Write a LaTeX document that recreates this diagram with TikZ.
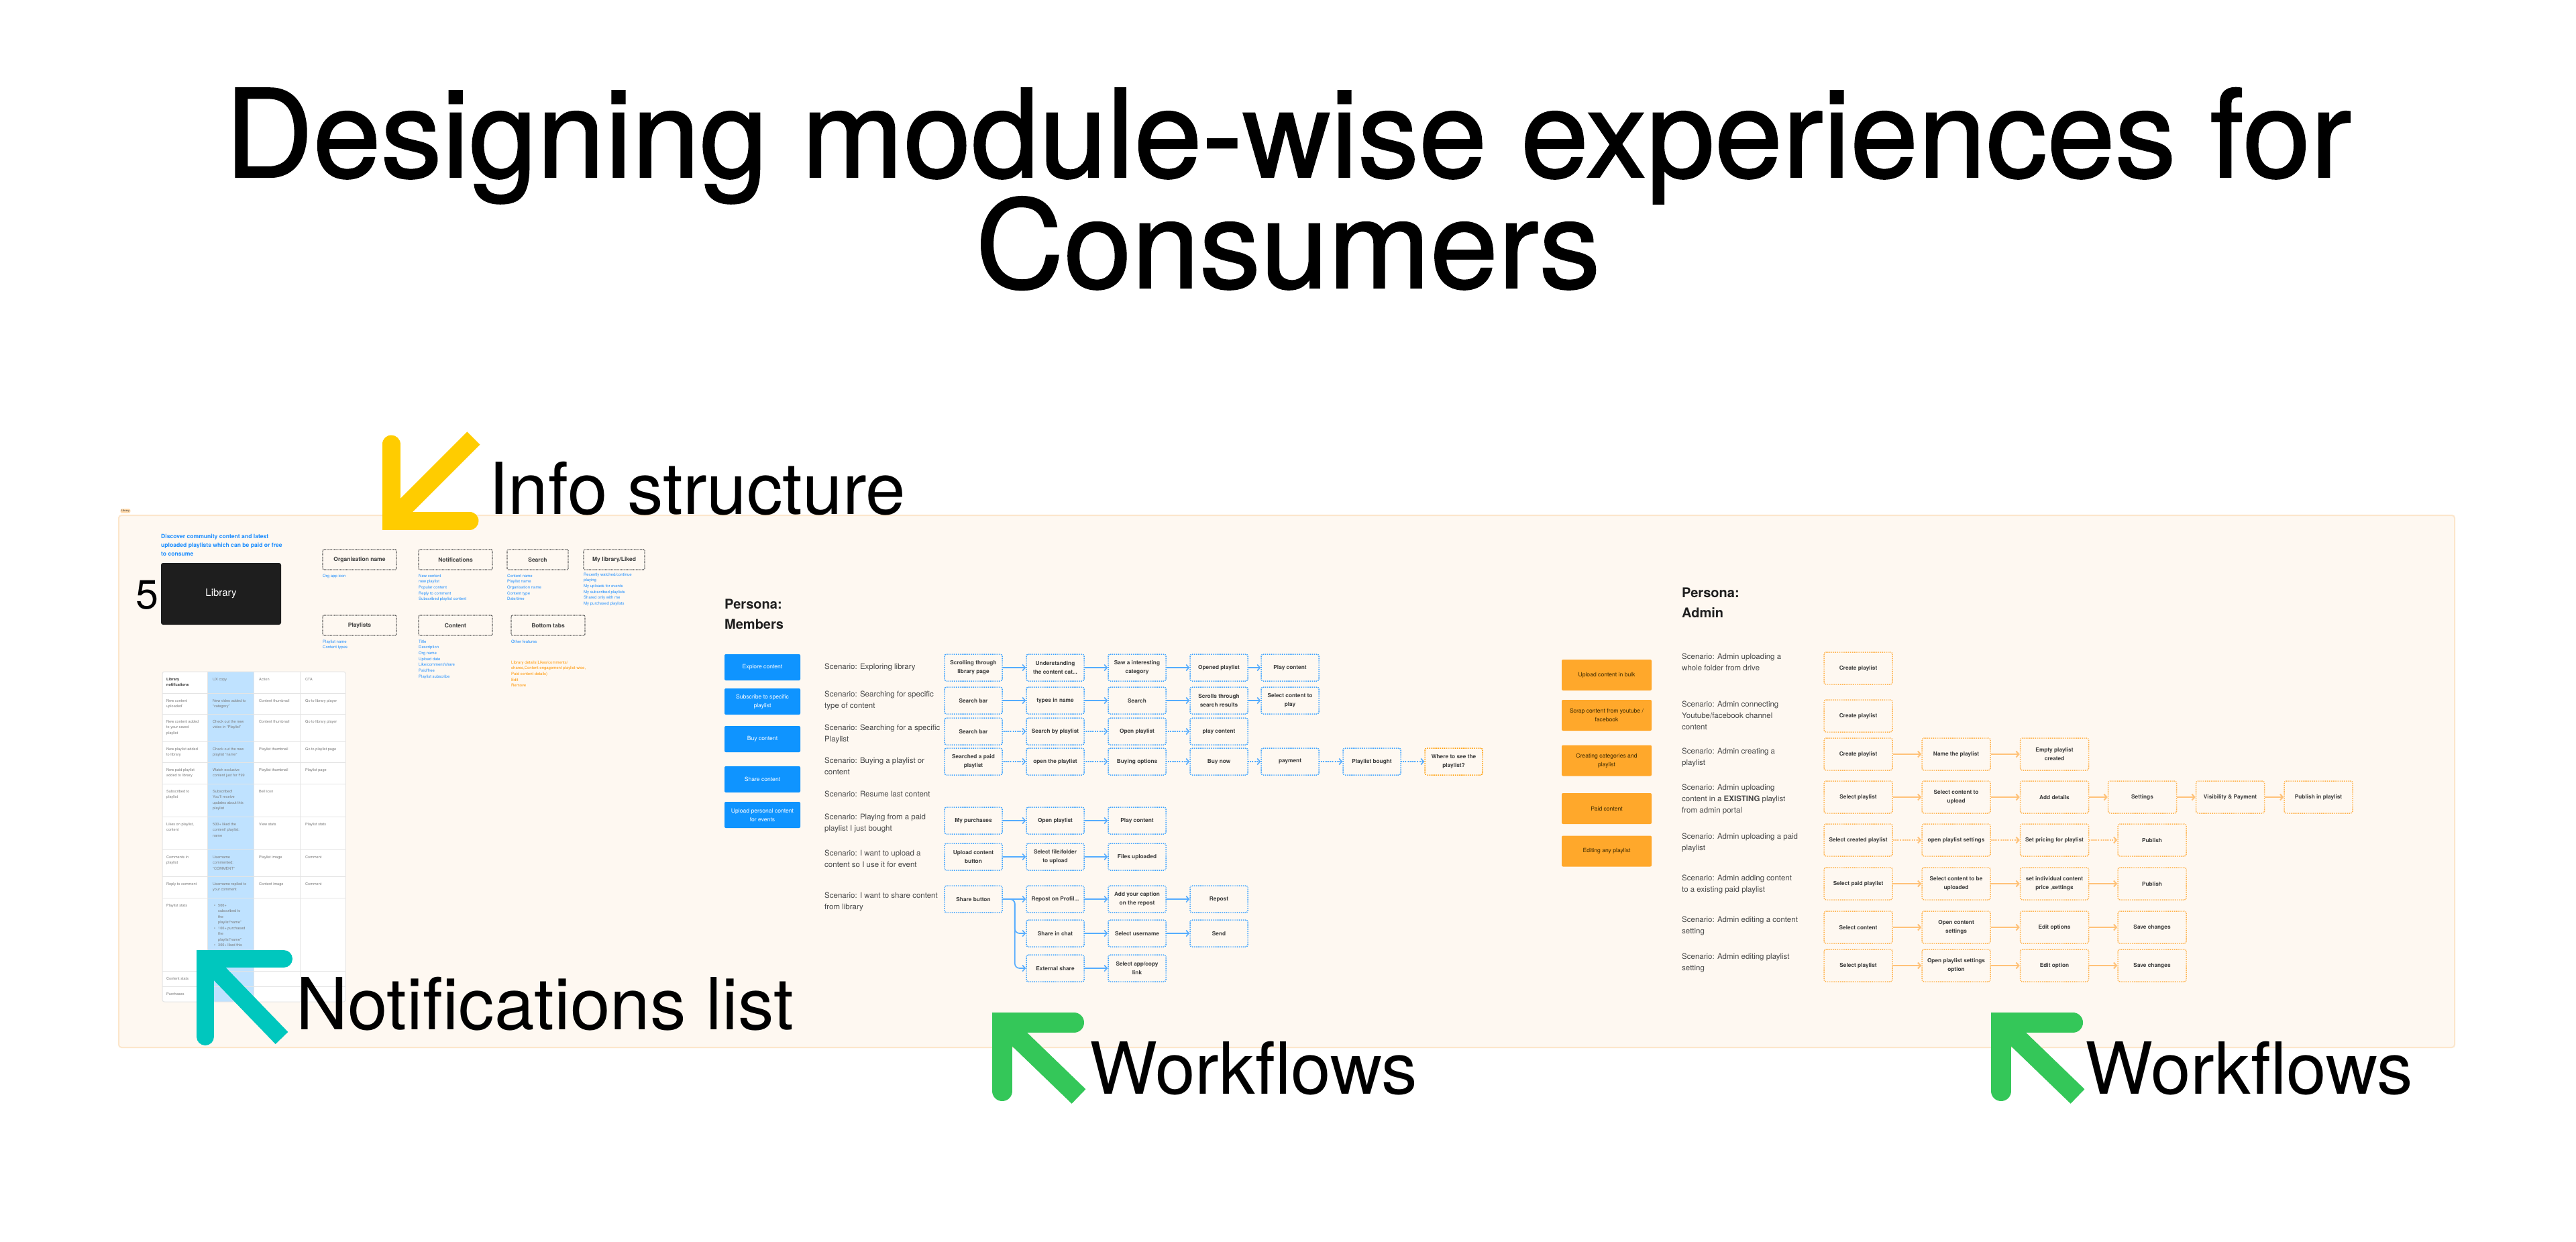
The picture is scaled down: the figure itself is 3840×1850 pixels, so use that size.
\documentclass[tikz,border=0pt]{standalone}
\usepackage{fontspec}
\setmainfont{TeX Gyre Heros}
\newfontfamily\rupeefont{Noto Sans}
\newfontfamily\titlefont[FakeBold=1.2]{TeX Gyre Heros}
\usetikzlibrary{arrows.meta,calc}

\definecolor{panel}{HTML}{FEF8F1}
\definecolor{panelline}{HTML}{FCE6CB}
\definecolor{mblue}{HTML}{3DA2FF}
\definecolor{mbluearrow}{HTML}{55ACFF}
\definecolor{btnblue}{HTML}{0F94FF}
\definecolor{aorange}{HTML}{FFB24A}
\definecolor{aorangearrow}{HTML}{FFC279}
\definecolor{btnorange}{HTML}{FFA82B}
\definecolor{btnotext}{HTML}{3B2800}
\definecolor{listblue}{HTML}{1A8CFF}
\definecolor{listorange}{HTML}{FF9500}
\definecolor{boxtext}{HTML}{3C3C3C}
\definecolor{scentext}{HTML}{474747}
\definecolor{tblue}{HTML}{BFE2FF}
\definecolor{tline}{HTML}{E4E4E4}
\definecolor{ttext}{HTML}{7A7A7A}
\definecolor{theadtext}{HTML}{333333}
\definecolor{ayellow}{HTML}{FFCC00}
\definecolor{ateal}{HTML}{00C7BE}
\definecolor{agreen}{HTML}{34C759}
\definecolor{libtag}{HTML}{FFD9AA}
\definecolor{libbox}{HTML}{1E1E1E}
\definecolor{wheretosee}{HTML}{FF9F0A}
\definecolor{iboxline}{HTML}{4A4A4A}

\begin{document}
\begin{tikzpicture}[x=1pt,y=-1pt,
  mbox/.style={draw=mblue, line width=1.5pt, dash pattern=on 1.4pt off 1.4pt, rounded corners=3pt,
    minimum width=86pt, minimum height=40pt, inner sep=1pt, align=center, text=boxtext,
    font=\fontsize{8.3}{12.5}\selectfont\bfseries},
  abox/.style={mbox, draw=aorange, minimum width=102pt, minimum height=48pt},
  marrow/.style={draw=mbluearrow, line width=1.6pt, -{Straight Barb[length=4pt,width=9pt]}},
  marrowd/.style={marrow, dash pattern=on 1.6pt off 1pt},
  aarrow/.style={draw=aorangearrow, line width=2pt, -{Straight Barb[length=4pt,width=9pt]}},
  aarrowd/.style={aarrow, dash pattern=on 1.6pt off 1pt},
  ibox/.style={draw=iboxline, line width=1.2pt, dash pattern=on 1.2pt off 1pt, rounded corners=1.5pt,
    minimum width=110pt, minimum height=30pt, inner sep=1pt, text=boxtext,
    font=\fontsize{8.5}{10}\selectfont\bfseries},
  blist/.style={anchor=north west, inner sep=0pt, align=left, text=listblue,
    font=\fontsize{6}{8.7}\selectfont},
  tcell/.style={anchor=north west, inner sep=0pt, align=left, text=ttext,
    font=\fontsize{5.6}{8.5}\selectfont},
  bbtn/.style={fill=btnblue, rounded corners=2pt, minimum width=113pt, minimum height=39pt,
    inner sep=1pt, text=white, align=center, font=\fontsize{8.6}{13}\selectfont},
  obtn/.style={fill=btnorange, rounded corners=2pt, minimum width=134pt, minimum height=46pt,
    inner sep=1pt, text=btnotext, align=center, font=\fontsize{8.6}{13}\selectfont},
  scen/.style={anchor=north west, inner sep=0pt, align=left, text=scentext,
    font=\fontsize{11.5}{17}\selectfont},
  persona/.style={anchor=north west, inner sep=0pt, align=left, text=black!88,
    font=\fontsize{20}{30}\selectfont\bfseries},
  biglabel/.style={anchor=base west, inner sep=0pt, text=black, font=\fontsize{107}{120}\selectfont},
  titletext/.style={anchor=base, inner sep=0pt, text=black, font=\titlefont\fontsize{182}{218}\selectfont}
]
\useasboundingbox (0,0) rectangle (3840,1850);
\fill[white] (0,0) rectangle (3840,1850);

% ---------- title ----------
\node[titletext] (title1) at (1920,264) {Designing module-wise experiences for};
\node[titletext] (title2) at (1920,429) {Consumers};

% ---------- panel ----------
\draw[fill=panel, draw=panelline, line width=2pt, rounded corners=4pt] (177,768) rectangle (3659,1561);
\node[fill=libtag, rounded corners=1.5pt, inner sep=1.2pt, text=black!80,
  font=\fontsize{4}{5}\selectfont] (tag) at (187,761.5) {Library};

% ---------- library / info structure ----------
\node[anchor=north west, inner sep=0pt, align=left, text=listblue,
  font=\fontsize{8.6}{13}\selectfont\bfseries] (desc) at (240,796)
  {Discover community content and latest\\uploaded playlists which can be paid or free\\to consume};
\node[fill=libbox, rounded corners=3pt, minimum width=179pt, minimum height=92pt, text=white,
  font=\fontsize{15}{18}\selectfont] (libbox) at (329.5,885) {Library};
\node[anchor=base east, inner sep=0pt, font=\fontsize{61}{70}\selectfont] (five) at (237,907) {5};

\node[ibox] (iorg) at (536,834) {Organisation name};
\node[ibox] (inotif) at (679,834) {Notifications};
\node[ibox, minimum width=91pt] (isearch) at (801.5,834) {Search};
\node[ibox, minimum width=91pt] (ilib) at (915.5,834) {My library/Liked};
\node[ibox] (iplay) at (536,932) {Playlists};
\node[ibox] (icont) at (679,932) {Content};
\node[ibox] (itabs) at (817,932) {Bottom tabs};

\node[blist] (lorg) at (481,855.5) {Org app icon};
\node[blist] (lnotif) at (624,855.5) {New content\\new playlist\\Popular content\\Reply to comment\\Subscribed playlist content};
\node[blist] (lsearch) at (756,855.5) {Content name\\Playlist name\\Organisation name\\Content type\\Date/time};
\node[blist] (llib) at (870,853.5) {Recently watched/continue\\playing\\My uploads for events\\My subscribed playlists\\Shared only with me\\My purchased playlists};
\node[blist] (lplay) at (481,953.5) {Playlist name\\Content types};
\node[blist] (lcont) at (624,953.5) {Title\\Description\\Org name\\Upload date\\Like/comment/share\\Paid/free\\Playlist subscribe};
\node[blist] (ltabs) at (762,953.5) {Other features};
\node[blist, text=listorange] (lorange) at (762,984.5) {Library details(Likes/comments/\\shares,Content engagement playlist-wise,\\Paid content details)\\Edit\\Remove};

% ---------- notifications table ----------
\fill[white, rounded corners=3pt] (242,1001) rectangle (515,1493);
\fill[tblue] (309,1001) rectangle (378,1493);
\foreach \yy in {1033,1064,1105,1136,1168,1217,1266,1306,1338,1447,1470}
  \draw[tline, line width=0.8pt] (242,\yy) -- (515,\yy);
\foreach \xx in {309,378,447}
  \draw[tline, line width=0.8pt] (\xx,1001) -- (\xx,1493);
\draw[tline, line width=1pt, rounded corners=3pt] (242,1001) rectangle (515,1493);

\node[tcell, text=theadtext, font=\fontsize{5.6}{8.5}\selectfont\bfseries] (t11) at (248,1010) {Library\\notifications};
\node[tcell] (t12) at (317,1010) {UX copy};
\node[tcell] (t13) at (386,1010) {Action};
\node[tcell] (t14) at (455,1010) {CTA};
\node[tcell] (t21) at (248,1042) {New content\\uploaded'};
\node[tcell] (t22) at (317,1042) {New video added to\\“category”};
\node[tcell] (t23) at (386,1042) {Content thumbnail};
\node[tcell] (t24) at (455,1042) {Go to library player};
\node[tcell] (t31) at (248,1073) {New content added\\to your saved\\playlist};
\node[tcell] (t32) at (317,1073) {Check out the new\\video in “Playlist”};
\node[tcell] (t33) at (386,1073) {Content thumbnail};
\node[tcell] (t34) at (455,1073) {Go to library player};
\node[tcell] (t41) at (248,1114) {New playlist added\\to library};
\node[tcell] (t42) at (317,1114) {Check out the new\\playlist “name”};
\node[tcell] (t43) at (386,1114) {Playlist thumbnail};
\node[tcell] (t44) at (455,1114) {Go to playlist page};
\node[tcell] (t51) at (248,1145) {New paid playlist\\added to library};
\node[tcell] (t52) at (317,1145) {Watch exclusive\\content just for {\rupeefont ₹}99};
\node[tcell] (t53) at (386,1145) {Playlist thumbnail};
\node[tcell] (t54) at (455,1145) {Playlist page};
\node[tcell] (t61) at (248,1177) {Subscribed to\\playlist};
\node[tcell] (t62) at (317,1177) {Subscribed!\\You'll receive\\updates about this\\playlist};
\node[tcell] (t63) at (386,1177) {Bell icon};
\node[tcell] (t71) at (248,1226) {Likes on playlist,\\content};
\node[tcell] (t72) at (317,1226) {500+ liked the\\content/ playlist:\\name};
\node[tcell] (t73) at (386,1226) {View stats};
\node[tcell] (t74) at (455,1226) {Playlist stats};
\node[tcell] (t81) at (248,1275) {Comments in\\playlist};
\node[tcell] (t82) at (317,1275) {Username\\commented:\\“COMMENT”};
\node[tcell] (t83) at (386,1275) {Playlist image};
\node[tcell] (t84) at (455,1275) {Comment};
\node[tcell] (t91) at (248,1315) {Reply to comment};
\node[tcell] (t92) at (317,1315) {Username replied to\\your comment};
\node[tcell] (t93) at (386,1315) {Content image};
\node[tcell] (t94) at (455,1315) {Comment};
\node[tcell] (t101) at (248,1347) {Playlist stats};
\node[tcell] (t102) at (319,1347) {\makebox[6pt][l]{\textbullet}500+\\\hspace*{6pt}subscribed to\\\hspace*{6pt}the\\\hspace*{6pt}playlist“name”\\\makebox[6pt][l]{\textbullet}100+ purchased\\\hspace*{6pt}the\\\hspace*{6pt}playlist“name”\\\makebox[6pt][l]{\textbullet}300+ liked this};
\node[tcell] (t111) at (248,1456) {Content stats};
\node[tcell] (t121) at (248,1479) {Purchases};

% ---------- members ----------
\node[persona] (pmem) at (1080,893) {Persona:\\Members};

\node[bbtn] (b1) at (1136.5,994.5) {Explore content};
\node[bbtn] (b2) at (1136.5,1045.5) {Subscribe to specific\\playlist};
\node[bbtn] (b3) at (1136.5,1101.5) {Buy content};
\node[bbtn] (b4) at (1136.5,1161.5) {Share content};
\node[bbtn] (b5) at (1136.5,1214.5) {Upload personal content\\for events};

\node[scen] (s1) at (1229,989) {Scenario: Exploring library};
\node[scen] (s2) at (1229,1030) {Scenario: Searching for specific\\type of content};
\node[scen] (s3) at (1229,1080) {Scenario: Searching for a specific\\Playlist};
\node[scen] (s4) at (1229,1129) {Scenario: Buying a playlist or\\content};
\node[scen] (s5) at (1229,1179) {Scenario: Resume last content};
\node[scen] (s6) at (1229,1213) {Scenario: Playing from a paid\\playlist I just bought};
\node[scen] (s7) at (1229,1267) {Scenario: I want to upload a\\content so I use it for event};
\node[scen] (s8) at (1229,1330) {Scenario: I want to share content\\from library};

\node[mbox] (m11) at (1451,995) {Scrolling through\\library page};
\node[mbox] (m12) at (1573,995) {Understanding\\the content cat...};
\node[mbox] (m13) at (1695,995) {Saw a interesting\\category};
\node[mbox] (m14) at (1817,995) {Opened playlist};
\node[mbox] (m15) at (1923,995) {Play content};
\draw[marrow] (m11) -- (m12);
\draw[marrow] (m12) -- (m13);
\draw[marrow] (m13) -- (m14);
\draw[marrow] (m14) -- (m15);

\node[mbox] (m21) at (1451,1044) {Search bar};
\node[mbox] (m22) at (1573,1044) {types in name};
\node[mbox] (m23) at (1695,1044) {Search};
\node[mbox] (m24) at (1817,1044) {Scrolls through\\search results};
\node[mbox] (m25) at (1923,1044) {Select content to\\play};
\draw[marrow] (m21) -- (m22);
\draw[marrow] (m22) -- (m23);
\draw[marrow] (m23) -- (m24);
\draw[marrow] (m24) -- (m25);

\node[mbox] (m31) at (1451,1090) {Search bar};
\node[mbox] (m32) at (1573,1090) {Search by playlist};
\node[mbox] (m33) at (1695,1090) {Open playlist};
\node[mbox] (m34) at (1817,1090) {play content};
\draw[marrowd] (m31) -- (m32);
\draw[marrowd] (m32) -- (m33);
\draw[marrowd] (m33) -- (m34);

\node[mbox] (m41) at (1451,1135) {Searched a paid\\playlist};
\node[mbox] (m42) at (1573,1135) {open the playlist};
\node[mbox] (m43) at (1695,1135) {Buying options};
\node[mbox] (m44) at (1817,1135) {Buy now};
\node[mbox] (m45) at (1923,1135) {payment};
\node[mbox] (m46) at (2045,1135) {Playlist bought};
\node[mbox, draw=wheretosee] (m47) at (2167,1135) {Where to see the\\playlist?};
\draw[marrowd] (m41) -- (m42);
\draw[marrowd] (m42) -- (m43);
\draw[marrowd] (m43) -- (m44);
\draw[marrowd] (m44) -- (m45);
\draw[marrowd] (m45) -- (m46);
\draw[marrowd] (m46) -- (m47);

\node[mbox] (mp1) at (1451,1223) {My purchases};
\node[mbox] (mp2) at (1573,1223) {Open playlist};
\node[mbox] (mp3) at (1695,1223) {Play content};
\draw[marrow] (mp1) -- (mp2);
\draw[marrow] (mp2) -- (mp3);

\node[mbox] (mu1) at (1451,1277) {Upload content\\button};
\node[mbox] (mu2) at (1573,1277) {Select file/folder\\to upload};
\node[mbox] (mu3) at (1695,1277) {Files uploaded};
\draw[marrow] (mu1) -- (mu2);
\draw[marrow] (mu2) -- (mu3);

\node[mbox] (ms1) at (1451,1340) {Share button};
\node[mbox] (ms2) at (1573,1340) {Repost on Profil...};
\node[mbox] (ms3) at (1695,1340) {Add your caption\\on the repost};
\node[mbox] (ms4) at (1817,1340) {Repost};
\node[mbox] (mc2) at (1573,1391) {Share in chat};
\node[mbox] (mc3) at (1695,1391) {Select username};
\node[mbox] (mc4) at (1817,1391) {Send};
\node[mbox] (me2) at (1573,1443) {External share};
\node[mbox] (me3) at (1695,1443) {Select app/copy\\link};
\draw[marrow] (ms1) -- (ms2);
\draw[marrow] (ms2) -- (ms3);
\draw[marrow] (ms3) -- (ms4);
\draw[marrow, rounded corners=7pt] (ms1.east) -- ++(18,0) |- (mc2.west);
\draw[marrow, rounded corners=7pt] (ms1.east) -- ++(18,0) |- (me2.west);
\draw[marrow] (mc2) -- (mc3);
\draw[marrow] (mc3) -- (mc4);
\draw[marrow] (me2) -- (me3);

% ---------- admin ----------
\node[persona] (padm) at (2507,876) {Persona:\\Admin};

\node[obtn] (o1) at (2395,1006) {Upload content in bulk};
\node[obtn] (o2) at (2395,1066) {Scrap content from youtube /\\facebook};
\node[obtn] (o3) at (2395,1133.5) {Creating categories and\\playlist};
\node[obtn] (o4) at (2395,1205) {Paid content};
\node[obtn] (o5) at (2395,1268.5) {Editing any playlist};

\node[scen] (as1) at (2507,974) {Scenario: Admin uploading a\\whole folder from drive};
\node[scen] (as2) at (2507,1045) {Scenario: Admin connecting\\Youtube/facebook channel\\content};
\node[scen] (as3) at (2507,1115) {Scenario: Admin creating a\\playlist};
\node[scen] (as4) at (2507,1169) {Scenario: Admin uploading\\content in a \textbf{EXISTING} playlist\\from admin portal};
\node[scen] (as5) at (2507,1242) {Scenario: Admin uploading a paid\\playlist};
\node[scen] (as6) at (2507,1304) {Scenario: Admin adding content\\to a existing paid playlist};
\node[scen] (as7) at (2507,1366) {Scenario: Admin editing a content\\setting};
\node[scen] (as8) at (2507,1421) {Scenario: Admin editing playlist\\setting};

\node[abox] (a11) at (2770,996) {Create playlist};
\node[abox] (a21) at (2770,1067) {Create playlist};

\node[abox] (a31) at (2770,1124) {Create playlist};
\node[abox] (a32) at (2916,1124) {Name the playlist};
\node[abox] (a33) at (3062.5,1124) {Empty playlist\\created};
\draw[aarrow] (a31) -- (a32);
\draw[aarrow] (a32) -- (a33);

\node[abox] (a41) at (2770,1188) {Select playlist};
\node[abox] (a42) at (2916,1188) {Select content to\\upload};
\node[abox] (a43) at (3062.5,1188) {Add details};
\node[abox] (a44) at (3193.5,1188) {Settings};
\node[abox] (a45) at (3324.5,1188) {Visibility \& Payment};
\node[abox] (a46) at (3456,1188) {Publish in playlist};
\draw[aarrow] (a41) -- (a42);
\draw[aarrow] (a42) -- (a43);
\draw[aarrow] (a43) -- (a44);
\draw[aarrow] (a44) -- (a45);
\draw[aarrow] (a45) -- (a46);

\node[abox] (a51) at (2770,1252) {Select created playlist};
\node[abox] (a52) at (2916,1252) {open playlist settings};
\node[abox] (a53) at (3062.5,1252) {Set pricing for playlist};
\node[abox] (a54) at (3208,1252) {Publish};
\draw[aarrowd] (a51) -- (a52);
\draw[aarrowd] (a52) -- (a53);
\draw[aarrowd] (a53) -- (a54);

\node[abox] (a61) at (2770,1317) {Select paid playlist};
\node[abox] (a62) at (2916,1317) {Select content to be\\uploaded};
\node[abox] (a63) at (3062.5,1317) {set individual content\\price ,settings};
\node[abox] (a64) at (3208,1317) {Publish};
\draw[aarrow] (a61) -- (a62);
\draw[aarrow] (a62) -- (a63);
\draw[aarrow] (a63) -- (a64);

\node[abox] (a71) at (2770,1382) {Select content};
\node[abox] (a72) at (2916,1382) {Open content\\settings};
\node[abox] (a73) at (3062.5,1382) {Edit options};
\node[abox] (a74) at (3208,1382) {Save changes};
\draw[aarrow] (a71) -- (a72);
\draw[aarrow] (a72) -- (a73);
\draw[aarrow] (a73) -- (a74);

\node[abox] (a81) at (2770,1439) {Select playlist};
\node[abox] (a82) at (2916,1439) {Open playlist settings\\option};
\node[abox] (a83) at (3062.5,1439) {Edit option};
\node[abox] (a84) at (3208,1439) {Save changes};
\draw[aarrow] (a81) -- (a82);
\draw[aarrow] (a82) -- (a83);
\draw[aarrow] (a83) -- (a84);

% ---------- callout arrows and labels ----------
\draw[ayellow, line width=27pt, line cap=round, line join=miter] (583,662) -- (583,776) -- (700,776);
\draw[ayellow, line width=27pt] (583,776) -- (706,653);
\node[biglabel] (lblinfo) at (728,766) {Info structure};

\draw[ateal, line width=26pt, line cap=round, line join=miter] (306,1545) -- (306,1429) -- (423,1429);
\draw[ateal, line width=26pt] (306,1429) -- (420,1547);
\node[biglabel] (lblnotif) at (441,1534) {Notifications list};

\draw[agreen, line width=30pt, line cap=round, line join=miter] (1494,1626) -- (1494,1524) -- (1601,1524);
\draw[agreen, line width=30pt] (1494,1524) -- (1608,1634);
\node[biglabel] (lblwf1) at (1624,1630) {Workflows};

\draw[agreen, line width=30pt, line cap=round, line join=miter] (2983,1626) -- (2983,1524) -- (3090,1524);
\draw[agreen, line width=30pt] (2983,1524) -- (3097,1634);
\node[biglabel] (lblwf2) at (3108,1630) {Workflows};
\end{tikzpicture}
\end{document}
